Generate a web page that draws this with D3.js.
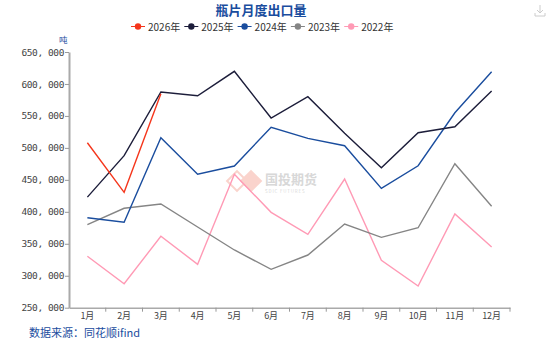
<!DOCTYPE html>
<html><head><meta charset="utf-8">
<script src="https://cdn.jsdelivr.net/npm/d3@7"></script>
<style>body{margin:0;background:#fff}svg{display:block}</style>
</head><body><svg id="c" width="550" height="344"></svg>
<script>
const months = ["1月","2月","3月","4月","5月","6月","7月","8月","9月","10月","11月","12月"];
const seriesNames = ["2026年","2025年","2024年","2023年","2022年"];
const seriesColors = ["#f5361c","#1c1d3a","#1a4d9e","#858585","#ff9ab5"];
const v2026 = [508000,430500,584700];
const v2025 = [423000,487800,587400,581600,619800,546700,580000,523000,469000,523700,533100,589000];
const v2024 = [390800,383600,515900,458700,471600,532200,514800,503400,436700,472100,555000,619200];
const v2023 = [379800,405500,412200,376200,340300,310000,332400,380900,360100,375100,475200,408600];
const v2022 = [330400,287500,361700,317900,458700,399200,364800,451300,324100,283900,396600,344900];
const yTicks = [250000,300000,350000,400000,450000,500000,550000,600000,650000];
const allSeries = [v2026,v2025,v2024,v2023,v2022];

const svg = d3.select("#c");
const font = "'Noto Sans CJK SC','Noto Sans',sans-serif";
const x = d3.scaleBand().domain(months).range([69,510]);
const y = d3.scaleLinear().domain([250000,650000]).range([307.7,52]);

// title
svg.append("text").attr("x",261).attr("y",15).attr("text-anchor","middle")
  .attr("font-family",font).attr("font-size",13).attr("font-weight","bold")
  .attr("fill","#1a4d9e").text("瓶片月度出口量");

// legend
const lg = svg.append("g");
seriesNames.forEach((n,i)=>{
  const cx = 138 + i*53.3;
  const g = lg.append("g");
  g.append("line").attr("x1",cx-7).attr("x2",cx+7).attr("y1",26.5).attr("y2",26.5)
    .attr("stroke",seriesColors[i]).attr("stroke-width",1);
  g.append("circle").attr("cx",cx).attr("cy",26.5).attr("r",3.2).attr("fill",seriesColors[i]);
  g.append("text").attr("x",cx+10).attr("y",30.5).attr("font-family",font)
    .attr("font-size",10).attr("fill","#333").text(n);
});

// unit
svg.append("text").attr("x",59).attr("y",43).attr("font-family",font)
  .attr("font-size",8.5).attr("fill","#1a4d9e").text("吨");

// watermark
const wm = svg.append("g").attr("opacity",0.45);
wm.append("rect").attr("x",-8).attr("y",-8).attr("width",16).attr("height",16)
  .attr("transform","translate(251,181) rotate(45)").attr("fill","#f5a08f");
wm.append("rect").attr("x",-7).attr("y",-7).attr("width",14).attr("height",14)
  .attr("transform","translate(237,181) rotate(45)").attr("fill","none").attr("stroke","#f5a08f").attr("stroke-width",2);
wm.append("text").attr("x",265).attr("y",184).attr("font-family",font).attr("font-size",13)
  .attr("font-weight","bold").attr("fill","#aaa").text("国投期货");
wm.append("text").attr("x",265).attr("y",192.5).attr("font-family",font).attr("font-size",4.5)
  .attr("letter-spacing",0.8).attr("fill","#aaa").text("SDIC FUTURES");

// y axis
const yAxis = d3.axisLeft(y).tickValues(yTicks).tickSize(4).tickSizeOuter(0)
  .tickFormat(d=>d3.format(",")(d).replace(",",", "));
const ya = svg.append("g").attr("transform","translate(69,0)").call(yAxis);
ya.select(".domain").attr("stroke","#aaa").attr("stroke-width",2);
ya.selectAll(".tick line").attr("stroke","#999");
ya.selectAll(".tick text").attr("font-family","'DejaVu Sans Mono',monospace").attr("font-size",9.5)
  .attr("fill","#444").attr("x",-5).attr("letter-spacing",-0.4);

// x axis
const xAxis = d3.axisBottom(x).tickSize(0).tickSizeOuter(0);
const xa = svg.append("g").attr("transform","translate(0,307.7)").call(xAxis);
xa.select(".domain").attr("stroke","#aaa").attr("stroke-width",1.5);
xa.selectAll(".tick text").attr("font-family",font).attr("font-size",9).attr("fill","#444").attr("dy","0.9em");
const bounds = months.map(m=>x(m)).concat([x.range()[1]]);
xa.selectAll(".bnd").data(bounds.slice(1)).enter().append("line")
  .attr("x1",d=>d).attr("x2",d=>d).attr("y1",0).attr("y2",4).attr("stroke","#999");

// lines (draw oldest first)
const line = d3.line().x((d,i)=>x(months[i])+x.bandwidth()/2).y(d=>y(d));
for (let i=allSeries.length-1;i>=0;i--){
  svg.append("path").datum(allSeries[i]).attr("d",line).attr("fill","none")
    .attr("stroke",seriesColors[i]).attr("stroke-width",1.4);
}

// source
svg.append("text").attr("x",29).attr("y",337).attr("font-family",font).attr("font-size",11)
  .attr("fill","#1a4d9e").text("数据来源：同花顺ifind");

// download icon
const ic = svg.append("g").attr("stroke","#ccc").attr("fill","none").attr("stroke-width",1);
ic.append("path").attr("d","M540,5 V13 M537,10 L540,13 L543,10 M535,13 V16 H545 V13");
</script></body></html>
